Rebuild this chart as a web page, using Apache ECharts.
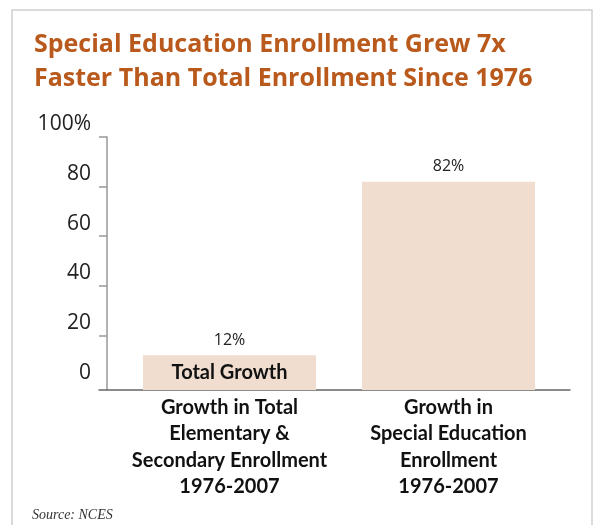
<!DOCTYPE html>
<html>
<head>
<meta charset="utf-8">
<script src="https://cdn.jsdelivr.net/npm/echarts@6/dist/echarts.min.js"></script>
<style>
html,body{margin:0;padding:0;background:#fff;}
#chart{width:596px;height:525px;}
</style>
</head>
<body>
<div id="chart"></div>
<script>
const titleText = 'Special Education Enrollment Grew 7x\nFaster Than Total Enrollment Since 1976';
const categories = [
  'Growth in Total\nElementary &\nSecondary Enrollment\n1976-2007',
  'Growth in\nSpecial Education\nEnrollment\n1976-2007'
];
const growthValues = [12, 82];
const valueLabels = ['12%', '82%'];
const innerLabels = ['Total Growth', ''];
const yTickValues = [0, 20, 40, 60, 80, 100];
const yTickLabels = ['0', '20', '40', '60', '80', '100%'];
const yMin = -2;
const yMax = 100;
const sourceText = 'Source: NCES';

const chart = echarts.init(document.getElementById('chart'), null, {renderer: 'canvas'});
const barColor = '#F1DDD0';
const barRatio = 0.79;

chart.setOption({
  backgroundColor: '#fff',
  animation: false,
  title: {
    text: titleText,
    left: 34,
    top: 28,
    padding: 0,
    textStyle: {
      fontFamily: 'Open Sans',
      fontWeight: 'bold',
      fontSize: 25,
      lineHeight: 34,
      color: '#B95A1C'
    }
  },
  graphic: [
    {
      type: 'rect',
      shape: {x: 12, y: 10, width: 580, height: 560},
      style: {fill: 'none', stroke: '#cfcfcf', lineWidth: 1.5},
      silent: true,
      z: -1
    },
    {
      type: 'text',
      left: 32,
      top: 508,
      style: {
        text: sourceText,
        font: 'italic 14px "Liberation Serif", "DejaVu Serif", serif',
        fill: '#333'
      }
    }
  ],
  grid: [
    {left: 120, right: 38, top: 137, bottom: 135},
    {left: 99, right: 26, top: 137, bottom: 135}
  ],
  xAxis: [
    {
      type: 'category',
      gridIndex: 0,
      data: categories,
      axisLine: {show: false},
      axisTick: {show: false},
      axisLabel: {
        interval: 0,
        margin: 4,
        fontFamily: 'Lato',
        fontWeight: 'bold',
        fontSize: 20,
        lineHeight: 26.5,
        color: '#111'
      }
    },
    {
      type: 'value',
      gridIndex: 1,
      min: 0,
      max: 1,
      axisLine: {show: true, lineStyle: {color: '#666', width: 1.5}},
      axisTick: {show: false},
      axisLabel: {show: false},
      splitLine: {show: false}
    }
  ],
  yAxis: [
    {
      type: 'value',
      gridIndex: 0,
      min: yMin,
      max: yMax,
      offset: 13,
      axisLine: {show: true, lineStyle: {color: '#999', width: 1.5}},
      axisTick: {
        show: true,
        length: 8,
        customValues: yTickValues.filter(function (v) { return v !== 0; }),
        lineStyle: {color: '#999', width: 1.5}
      },
      splitLine: {show: false},
      axisLabel: {
        customValues: yTickValues,
        margin: 16,
        verticalAlign: 'bottom',
        padding: [0, 0, 2, 0],
        fontFamily: 'Open Sans',
        fontSize: 21,
        color: '#222',
        formatter: function (v) {
          const i = yTickValues.indexOf(v);
          return i >= 0 ? yTickLabels[i] : '';
        }
      }
    },
    {
      type: 'value',
      gridIndex: 1,
      min: 0,
      max: 1,
      show: false
    }
  ],
  series: [
    {
      type: 'custom',
      xAxisIndex: 0,
      yAxisIndex: 0,
      data: growthValues.map(function (v, i) { return [i, v]; }),
      renderItem: function (params, api) {
        const idx = api.value(0);
        const top = api.coord([idx, api.value(1)]);
        const bottom = api.coord([idx, yMin]);
        const w = api.size([1, 0])[0] * barRatio;
        const label = innerLabels[params.dataIndex];
        return {
          type: 'rect',
          shape: {x: top[0] - w / 2, y: top[1], width: w, height: bottom[1] - top[1]},
          style: {fill: barColor},
          textContent: label ? {
            style: {
              text: label,
              fontFamily: 'Lato',
              fontWeight: 'bold',
              fontSize: 20,
              fill: '#111'
            }
          } : undefined,
          textConfig: label ? {position: 'inside'} : undefined
        };
      },
      z: 2
    },
    {
      type: 'bar',
      xAxisIndex: 0,
      yAxisIndex: 0,
      barWidth: '79%',
      data: growthValues,
      itemStyle: {color: 'rgba(0,0,0,0)'},
      label: {
        show: true,
        position: 'top',
        distance: 7,
        fontFamily: 'Open Sans',
        fontSize: 16,
        color: '#222',
        formatter: function (p) { return valueLabels[p.dataIndex]; }
      },
      z: 3
    }
  ]
});
</script>
</body>
</html>
